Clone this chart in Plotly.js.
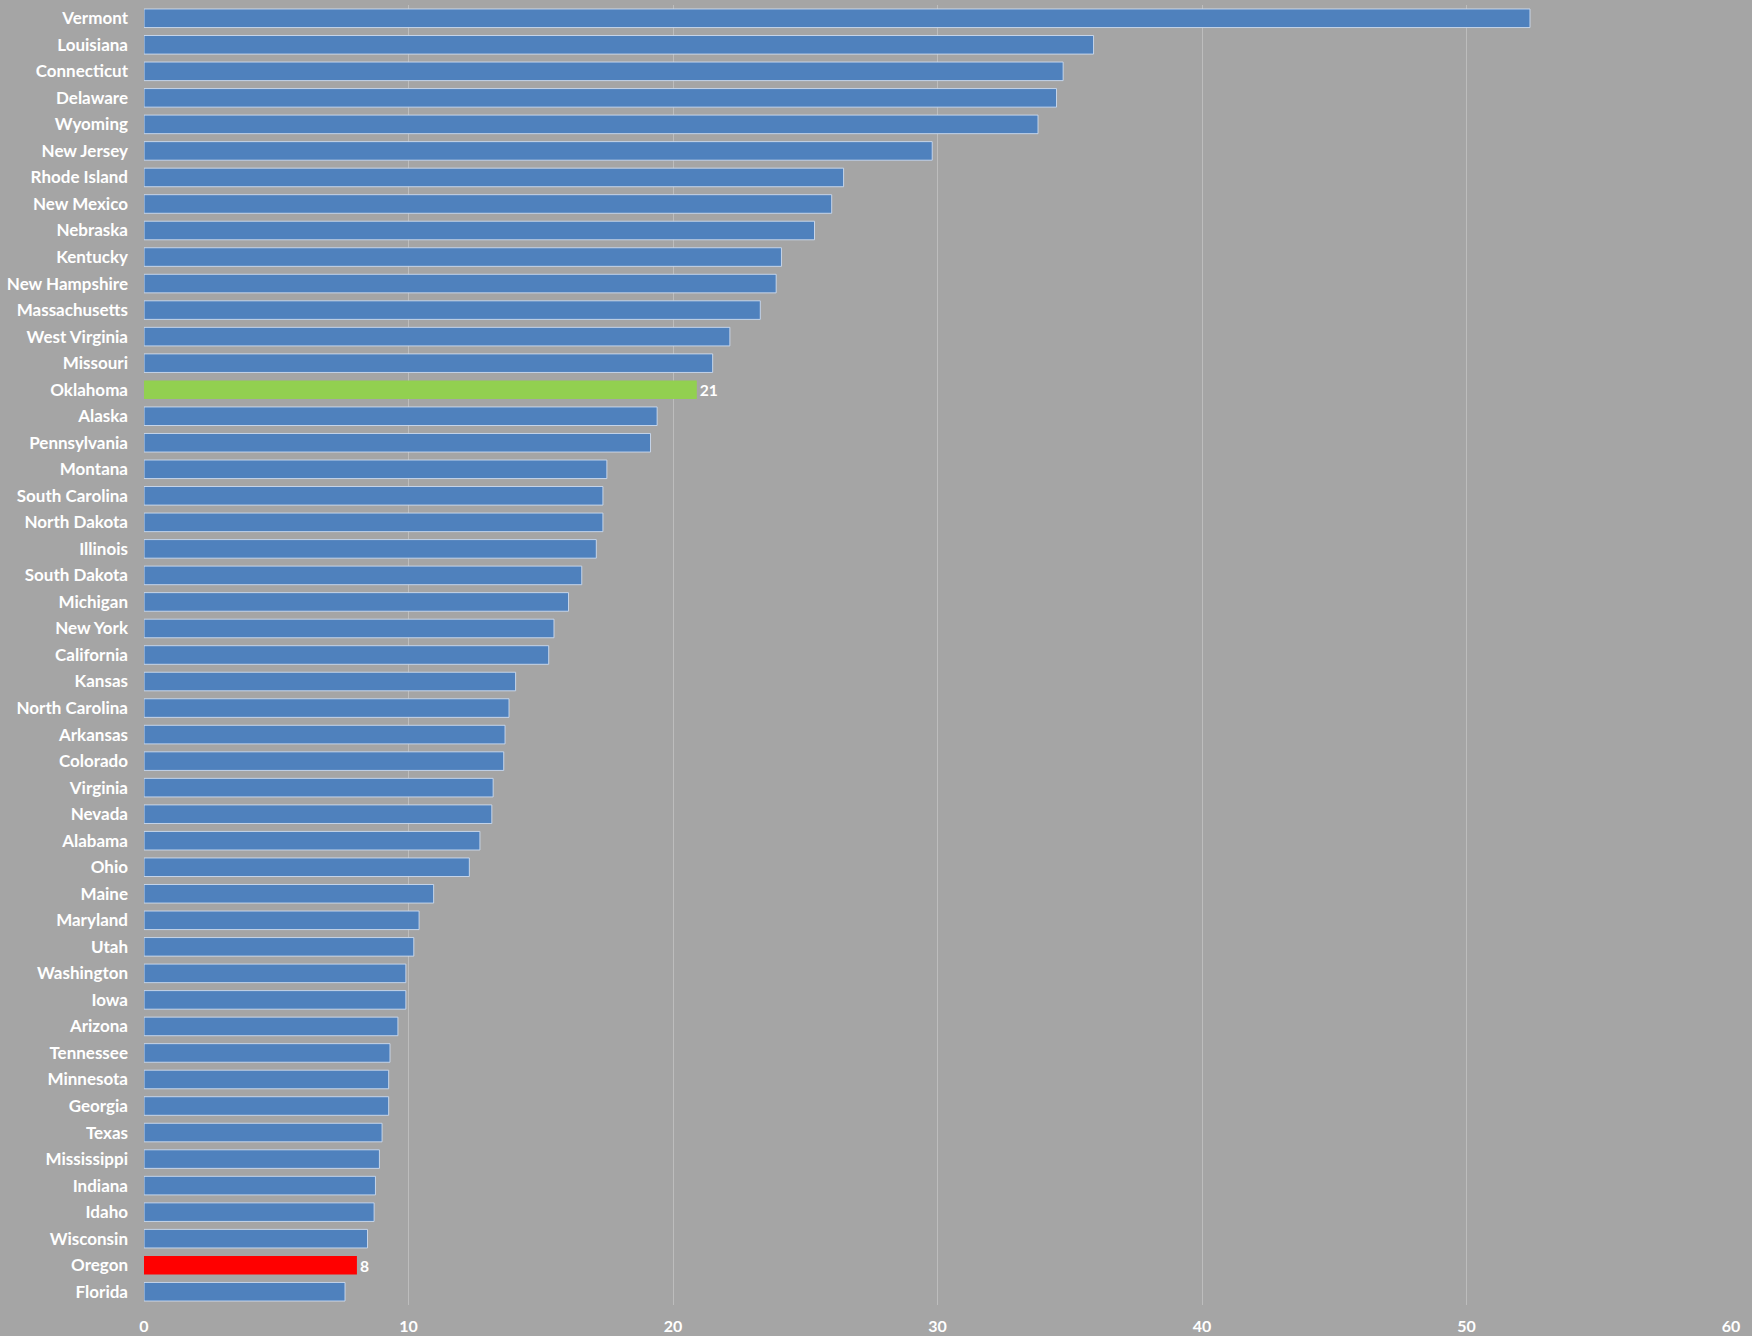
<!DOCTYPE html>
<html>
<head>
<meta charset="utf-8">
<script src="https://cdn.plot.ly/plotly-3.0.1.min.js"></script>
<style>html,body{margin:0;padding:0;background:#a5a5a5;}#chart{width:1752px;height:1336px;}</style>
</head>
<body>
<div id="chart"></div>
<script>
const states = ["Vermont","Louisiana","Connecticut","Delaware","Wyoming","New Jersey","Rhode Island","New Mexico","Nebraska","Kentucky","New Hampshire","Massachusetts","West Virginia","Missouri","Oklahoma","Alaska","Pennsylvania","Montana","South Carolina","North Dakota","Illinois","South Dakota","Michigan","New York","California","Kansas","North Carolina","Arkansas","Colorado","Virginia","Nevada","Alabama","Ohio","Maine","Maryland","Utah","Washington","Iowa","Arizona","Tennessee","Minnesota","Georgia","Texas","Mississippi","Indiana","Idaho","Wisconsin","Oregon","Florida"];
const values = [52.4,35.9,34.75,34.5,33.8,29.8,26.45,26.0,25.35,24.1,23.9,23.3,22.15,21.5,20.9,19.4,19.15,17.5,17.35,17.35,17.1,16.55,16.05,15.5,15.3,14.05,13.8,13.65,13.6,13.2,13.15,12.7,12.3,10.95,10.4,10.2,9.9,9.9,9.6,9.3,9.25,9.25,9.0,8.9,8.75,8.7,8.45,8.05,7.6];
const highlightState = {"Oklahoma":"#92d050","Oregon":"#ff0000"};
const labelText = {"Oklahoma":"21","Oregon":"8"};
const xTicks = [0,10,20,30,40,50,60];

const colors = states.map(s => highlightState[s] || "#4f81bd");
const lineColors = states.map(s => highlightState[s] ? "rgba(0,0,0,0)" : "rgba(205,220,240,0.9)");
const texts = states.map(s => labelText[s] || "");

const trace = {
  type: "bar",
  orientation: "h",
  y: states,
  x: values,
  marker: {color: colors, line: {color: lineColors, width: 1}},
  text: texts,
  textposition: "outside",
  cliponaxis: false,
  textfont: {family: "Lato, 'Open Sans', sans-serif", size: 16, color: "#ffffff", weight: "bold"},
  hoverinfo: "x+y"
};

const layout = {
  width: 1752, height: 1336,
  paper_bgcolor: "#a5a5a5",
  plot_bgcolor: "#a5a5a5",
  margin: {l: 144, r: 21, t: 5, b: 31},
  bargap: 0.3,
  showlegend: false,
  font: {family: "Lato, 'Open Sans', sans-serif", color: "#ffffff", size: 16, weight: "bold"},
  xaxis: {
    range: [0, 60],
    tickvals: xTicks,
    ticktext: xTicks.map(String),
    showgrid: true,
    gridcolor: "#bdbdbd",
    gridwidth: 1,
    zeroline: false,
    showline: false,
    ticks: "",
    ticklabelstandoff: 10,
    tickfont: {family: "Lato, 'Open Sans', sans-serif", size: 16, color: "#ffffff", weight: "bold"}
  },
  yaxis: {
    autorange: "reversed",
    type: "category",
    showgrid: false,
    zeroline: false,
    showline: false,
    ticks: "",
    ticklabelstandoff: 15,
    tickfont: {family: "Lato, 'Open Sans', sans-serif", size: 17, color: "#ffffff", weight: "bold"}
  }
};

Plotly.newPlot("chart", [trace], layout, {displayModeBar: false, staticPlot: true});
</script>
</body>
</html>
